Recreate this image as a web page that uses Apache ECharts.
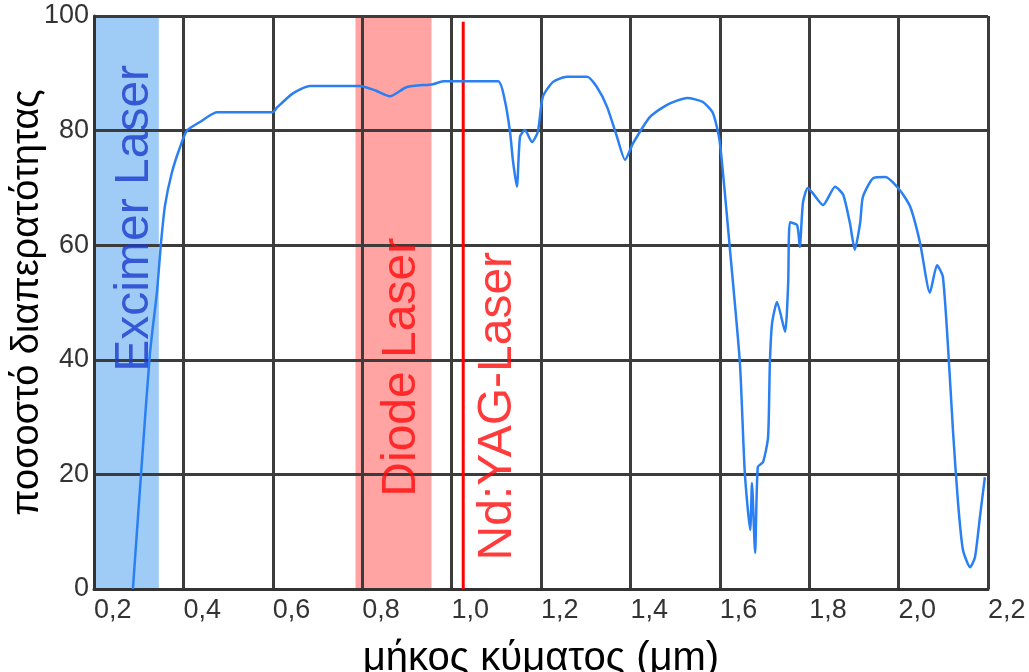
<!DOCTYPE html>
<html>
<head>
<meta charset="utf-8">
<script src="https://cdn.jsdelivr.net/npm/echarts@6/dist/echarts.min.js"></script>
<style>
  html, body { margin: 0; padding: 0; background: #fff; }
  #main { width: 1029px; height: 672px; }
</style>
</head>
<body>
<div id="main"></div>
<script>
// transmission curve
var wavelength = [0.287, 0.307, 0.325, 0.341, 0.35, 0.359, 0.374, 0.392, 0.408, 0.437,
  0.475, 0.6, 0.609, 0.645, 0.683, 0.795, 0.83, 0.862, 0.9, 0.958,
  0.981, 1.104, 1.119, 1.131, 1.137, 1.146, 1.153, 1.164, 1.18, 1.193,
  1.204, 1.227, 1.258, 1.303, 1.325, 1.348, 1.37, 1.388, 1.406, 1.444,
  1.482, 1.527, 1.562, 1.585, 1.6, 1.623, 1.645, 1.656, 1.668, 1.672,
  1.679, 1.685, 1.697, 1.708, 1.712, 1.717, 1.728, 1.746, 1.753, 1.757,
  1.773, 1.779, 1.786, 1.797, 1.831, 1.858, 1.876, 1.891, 1.902, 1.914,
  1.92, 1.943, 1.97, 2.003, 2.026, 2.048, 2.07, 2.086, 2.099, 2.111,
  2.122, 2.133, 2.144, 2.16, 2.171, 2.182, 2.193];
var transmission = [0, 22, 41, 52, 60.5, 67, 72.6, 77, 80, 81.5,
  83.2, 83.2, 84, 86.5, 87.8, 87.8, 87, 86, 87.6, 88.1,
  88.6, 88.6, 85.3, 79.6, 74.9, 70.2, 78.9, 80.1, 78, 79.8,
  85.9, 88.5, 89.4, 89.4, 87.6, 84.1, 78.9, 74.9, 77.8, 82.4,
  84.5, 85.7, 85, 83, 78, 59, 39.4, 20.2, 10.3, 18.5,
  6.3, 21.3, 22.2, 26.5, 39.4, 46.4, 50.1, 44.9, 53.4, 64,
  63.5, 59.7, 67.4, 70, 67, 70.2, 68.8, 63.9, 59.2, 63.9,
  68.4, 71.7, 71.9, 69.6, 66.7, 60.4, 51.7, 56.5, 54.5, 41.7,
  27.2, 15, 6.8, 3.8, 5.6, 12.6, 19.5];

// laser ranges (μm)
var excimerRange = [0.2, 0.345];
var diodeRange = [0.785, 0.955];
var ndYag = 1.026;
var laserNames = ['Excimer Laser', 'Diode Laser', 'Nd:YAG-Laser'];

var xTicks = [0.2, 0.4, 0.6, 0.8, 1.0, 1.2, 1.4, 1.6, 1.8, 2.0, 2.2];
var yTicks = [0, 20, 40, 60, 80, 100];

(function() {
  var chart = echarts.init(document.getElementById('main'));

  var curve = [];
  for (var i = 0; i < wavelength.length; i++) {
    curve.push([wavelength[i], transmission[i]]);
  }

  var bands = [
    [excimerRange[0], excimerRange[1], '#9fcbf7'],
    [diodeRange[0], diodeRange[1], '#ffa3a3']
  ];

  var font = 'Liberation Sans, Arial, sans-serif';

  var option = {
    animation: false,
    backgroundColor: '#fff',
    grid: { left: 94, right: 41, top: 16, bottom: 83, outerBoundsMode: 'none', containLabel: false },
    xAxis: {
      type: 'value',
      min: xTicks[0],
      max: xTicks[xTicks.length - 1],
      interval: 0.2,
      z: 1,
      name: 'μήκος κύματος (μm)',
      nameLocation: 'middle',
      nameGap: 50,
      nameMoveOverlap: false,
      nameTextStyle: { fontFamily: font, fontSize: 40, color: '#000' },
      axisLine: { lineStyle: { color: '#333', width: 3 } },
      axisTick: { show: false },
      splitLine: { show: true, lineStyle: { color: '#3c3c3c', width: 3 } },
      axisLabel: {
        fontFamily: font, fontSize: 27, color: '#333', margin: 8, align: 'left',
        formatter: function(v) { return v.toFixed(1).replace('.', ','); }
      }
    },
    yAxis: {
      type: 'value',
      min: yTicks[0],
      max: yTicks[yTicks.length - 1],
      interval: 20,
      z: 1,
      name: 'ποσοστό διαπερατότητας',
      nameLocation: 'middle',
      nameGap: 47,
      nameMoveOverlap: false,
      nameTextStyle: { fontFamily: font, fontSize: 38, color: '#000' },
      axisLine: { lineStyle: { color: '#333', width: 3 } },
      axisTick: { show: false },
      splitLine: { show: true, lineStyle: { color: '#3c3c3c', width: 3 } },
      axisLabel: { fontFamily: font, fontSize: 27, color: '#333', margin: 5 }
    },
    series: [
      {
        type: 'custom',
        z: 0,
        silent: true,
        data: bands,
        renderItem: function(params, api) {
          var p0 = api.coord([api.value(0), 100]);
          var p1 = api.coord([api.value(1), 0]);
          return {
            type: 'rect',
            shape: { x: p0[0], y: p0[1], width: p1[0] - p0[0], height: p1[1] - p0[1] },
            style: { fill: bands[params.dataIndex][2] }
          };
        }
      },
      {
        type: 'line',
        z: 2,
        symbol: 'none',
        data: [[ndYag, 0], [ndYag, 99]],
        lineStyle: { color: '#ff0000', width: 3 }
      },
      {
        type: 'line',
        z: 3,
        symbol: 'none',
        smooth: 0.2,
        data: curve,
        lineStyle: { color: '#2a80f2', width: 2.5 }
      },
      {
        type: 'scatter',
        z: 4,
        symbolSize: 1,
        itemStyle: { color: 'rgba(0,0,0,0)' },
        label: {
          show: true, position: 'inside', rotate: 90, fontFamily: font, fontSize: 48,
          formatter: function(p) { return p.name; }
        },
        data: [
          { name: laserNames[0], value: [0.292, 64.7], label: { color: '#1a3ccc' } },
          { name: laserNames[1], value: [0.889, 38.7], label: { color: '#ff0a0a' } },
          { name: laserNames[2], value: [1.104, 31.9], label: { color: '#ff0a0a' } }
        ]
      }
    ]
  };
  chart.setOption(option);
})();
</script>
</body>
</html>
